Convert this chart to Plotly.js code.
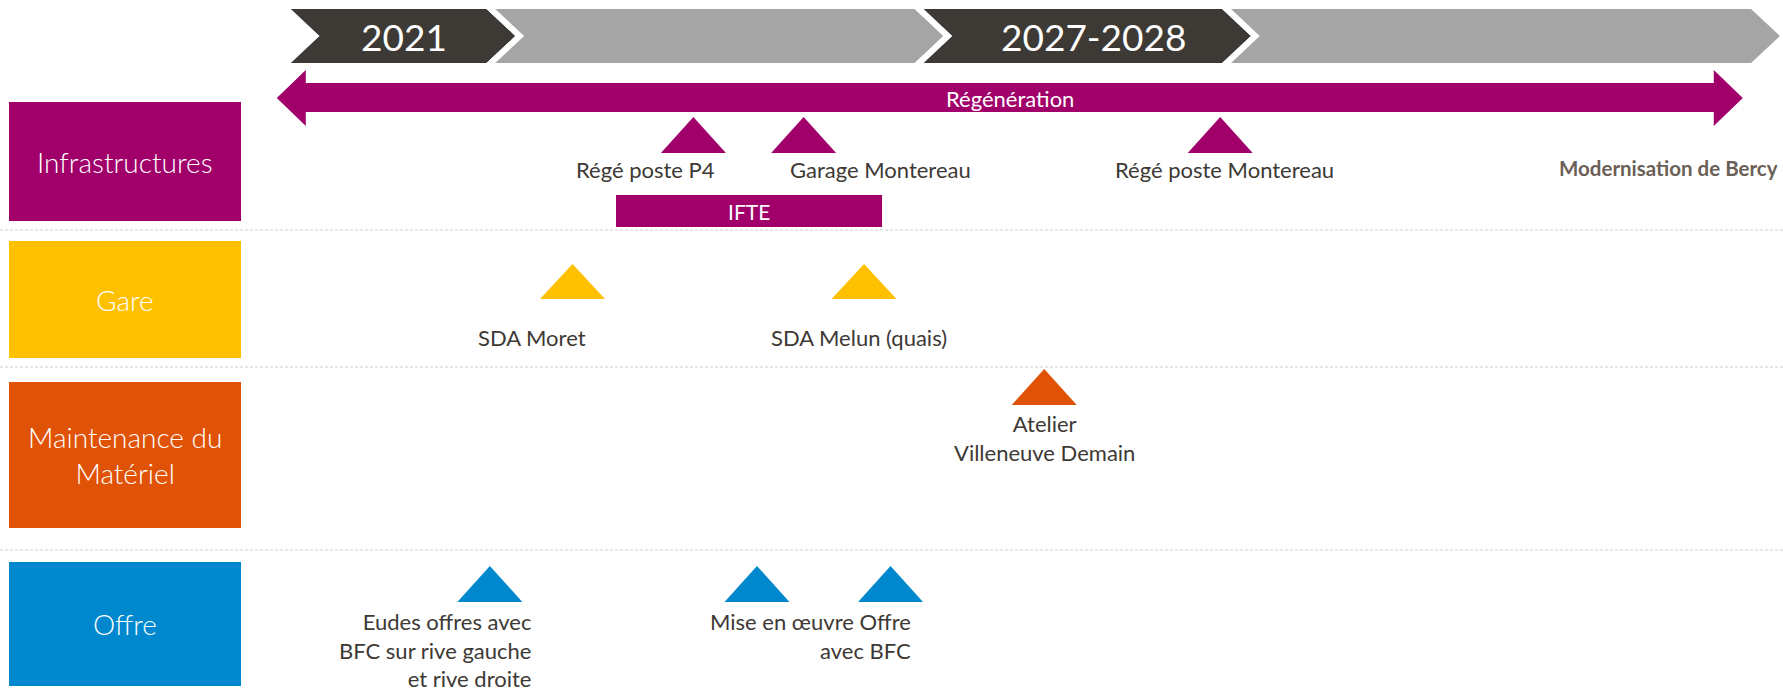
<!DOCTYPE html>
<html>
<head>
<meta charset="utf-8">
<script src="https://cdn.plot.ly/plotly-3.0.1.min.js"></script>
<style>
html,body{margin:0;padding:0;background:#ffffff;}
#chart{width:1783px;height:692px;}
</style>
</head>
<body>
<div id="chart"></div>
<script>
// ---------------- DATA ----------------
// Left-hand categories
const categories = ['Infrastructures', 'Gare', 'Maintenance du<br>Matériel', 'Offre'];
const categoryColors = ['#A1006B', '#FFC000', '#E05206', '#0088CE'];

// Timeline chevrons (years)
const periodLabels = ['2021', '', '2027-2028', ''];
const periodLabelYears = [2021, null, 2027.5, null];
const periodStarts = [2019.86, 2021.79, 2025.83, 2028.73];
const periodEnds = [2021.79, 2025.83, 2028.73, 2033.72];
const periodColors = ['#3D3935', '#A5A5A5', '#3D3935', '#A5A5A5'];

// Long-running works (years)
const spanNames = ['Régénération', 'IFTE'];
const spanStarts = [2019.80, 2023.00];
const spanEnds = [2033.63, 2025.51];
const spanCats = [0, 0];

// Milestones (triangles)
const milestoneYears = [2023.73, 2024.77, 2028.70, 2022.59, 2025.34, 2027.04, 2021.81, 2024.33, 2025.59];
const milestoneCats = [0, 0, 0, 1, 1, 2, 3, 3, 3];

// Milestone labels (index of the milestone they belong to)
const labelTexts = ['Régé poste P4', 'Garage Montereau', 'Régé poste Montereau', 'SDA Moret',
  'SDA Melun (quais)', 'Atelier<br>Villeneuve Demain',
  'Eudes offres avec<br>BFC sur rive gauche<br>et rive droite', 'Mise en œuvre Offre<br>avec BFC'];
const labelMilestone = [0, 1, 2, 3, 4, 5, 6, 8];

// Text-only milestone
const noteTexts = ['Modernisation de Bercy'];
const noteYears = [2033.98];
const noteCats = [0];

// ---------------- LAYOUT / STYLE ----------------
const W = 1783, H = 692;
const X0 = 2017.1887, X1 = 2017.1887 + W / 106;
const pxYear = W / (X1 - X0);
const yrs = px => px / pxYear;

const rows = [
  {boxTop: 102, boxBottom: 221, apex: 117, base: 153, labelY: 169},
  {boxTop: 241, boxBottom: 358, apex: 264, base: 299, labelY: 337},
  {boxTop: 382, boxBottom: 528, apex: 369, base: 405, labelY: 424},
  {boxTop: 562, boxBottom: 686, apex: 566, base: 602, labelY: 622}
];
const separators = [230, 367, 550];
const labelStyle = [
  {anchor: 'center', dx: -48},
  {anchor: 'center', dx: 77},
  {anchor: 'center', dx: 4},
  {anchor: 'center', dx: -41},
  {anchor: 'center', dx: -5},
  {anchor: 'center', dx: 0},
  {anchor: 'right', dx: 42},
  {anchor: 'right', dx: 21}
];
const FONT = 'Lato, "Open Sans", "DejaVu Sans", sans-serif';
const TEXT_COLOR = '#3D3935';
const LABEL_SIZE = 22;
const LINE_STEP = 28;

const traces = [];
const annotations = [];
const shapes = [];

// Chevrons
const chevTop = 6, chevBot = 66, chevMid = 36, chevDepth = yrs(32);
periodStarts.forEach((s, i) => {
  const e = periodEnds[i];
  traces.push({
    type: 'scatter', mode: 'lines', hoverinfo: 'skip', showlegend: false,
    x: [s, e, e + chevDepth, e, s, s + chevDepth, s],
    y: [chevTop, chevTop, chevMid, chevBot, chevBot, chevMid, chevTop],
    fill: 'toself', fillcolor: periodColors[i],
    line: {color: '#ffffff', width: 6}
  });
  if (periodLabels[i]) {
    annotations.push({
      x: periodLabelYears[i], y: chevMid, xref: 'x', yref: 'y', showarrow: false,
      text: periodLabels[i], xanchor: 'center', yanchor: 'middle',
      font: {family: FONT, size: 37, color: '#ffffff'}
    });
  }
});

// Régénération double arrow
{
  const s = spanStarts[0], e = spanEnds[0], h = yrs(29);
  const mid = 98, ht = 70, hb = 126, st = 83, sb = 112;
  traces.push({
    type: 'scatter', mode: 'lines', hoverinfo: 'skip', showlegend: false,
    x: [s, s + h, s + h, e - h, e - h, e, e - h, e - h, s + h, s + h, s],
    y: [mid, ht, st, st, ht, mid, hb, sb, sb, hb, mid],
    fill: 'toself', fillcolor: categoryColors[spanCats[0]],
    line: {color: categoryColors[spanCats[0]], width: 0}
  });
  annotations.push({
    x: (s + e) / 2, y: mid, xref: 'x', yref: 'y', showarrow: false,
    text: spanNames[0], xanchor: 'center', yanchor: 'middle',
    font: {family: FONT, size: 22, color: '#ffffff'}
  });
}

// IFTE bar
{
  const s = spanStarts[1], e = spanEnds[1];
  const t = 195, b = 227;
  traces.push({
    type: 'scatter', mode: 'lines', hoverinfo: 'skip', showlegend: false,
    x: [s, e, e, s, s], y: [t, t, b, b, t],
    fill: 'toself', fillcolor: categoryColors[spanCats[1]],
    line: {color: categoryColors[spanCats[1]], width: 0}
  });
  annotations.push({
    x: (s + e) / 2, y: (t + b) / 2, xref: 'x', yref: 'y', showarrow: false,
    text: spanNames[1], xanchor: 'center', yanchor: 'middle',
    font: {family: FONT, size: 21, color: '#ffffff'}
  });
}

// Milestone triangles
const triHalf = yrs(32.5);
milestoneYears.forEach((c, i) => {
  const r = rows[milestoneCats[i]];
  traces.push({
    type: 'scatter', mode: 'lines', hoverinfo: 'skip', showlegend: false,
    x: [c - triHalf, c, c + triHalf, c - triHalf],
    y: [r.base, r.apex, r.base, r.base],
    fill: 'toself', fillcolor: categoryColors[milestoneCats[i]],
    line: {color: categoryColors[milestoneCats[i]], width: 0}
  });
});

// Milestone labels
labelTexts.forEach((t, i) => {
  const m = labelMilestone[i];
  const r = rows[milestoneCats[m]];
  const st = labelStyle[i];
  const nLines = t.split('<br>').length;
  annotations.push({
    x: milestoneYears[m], y: r.labelY + (nLines - 1) * LINE_STEP / 2, xref: 'x', yref: 'y', showarrow: false,
    xshift: st.dx, text: t, xanchor: st.anchor, yanchor: 'middle', align: st.anchor, borderpad: 0,
    font: {family: FONT, size: LABEL_SIZE, color: TEXT_COLOR}
  });
});

// Notes
noteTexts.forEach((t, i) => {
  annotations.push({
    x: noteYears[i], y: 168, xref: 'x', yref: 'y', showarrow: false,
    text: '<b>' + t + '</b>', xanchor: 'right', yanchor: 'middle',
    font: {family: FONT, size: 20.5, color: '#6B5F57'}
  });
});

// Category boxes
categories.forEach((c, i) => {
  const r = rows[i];
  shapes.push({
    type: 'rect', xref: 'paper', yref: 'y', x0: 9 / W, x1: 241 / W,
    y0: r.boxTop, y1: r.boxBottom, fillcolor: categoryColors[i], line: {width: 0}, layer: 'below'
  });
  annotations.push({
    x: 125 / W, y: (r.boxTop + r.boxBottom) / 2, xref: 'paper', yref: 'y', showarrow: false,
    text: c, xanchor: 'center', yanchor: 'middle', align: 'center',
    font: {family: FONT, size: 28, color: '#ffffff', weight: 300}
  });
});

// Separators
separators.forEach(y => {
  shapes.push({
    type: 'line', xref: 'paper', yref: 'y', x0: 0, x1: 1, y0: y, y1: y,
    line: {color: '#CFCFCF', width: 1, dash: '3px,2px'}, layer: 'below'
  });
});

const layout = {
  width: W, height: H,
  margin: {l: 0, r: 0, t: 0, b: 0, pad: 0},
  paper_bgcolor: '#ffffff', plot_bgcolor: '#ffffff',
  showlegend: false,
  xaxis: {range: [X0, X1], visible: false, fixedrange: true},
  yaxis: {range: [H, 0], visible: false, fixedrange: true},
  shapes: shapes,
  annotations: annotations,
  font: {family: FONT}
};

Plotly.newPlot('chart', traces, layout, {staticPlot: true, displayModeBar: false});
</script>
</body>
</html>
